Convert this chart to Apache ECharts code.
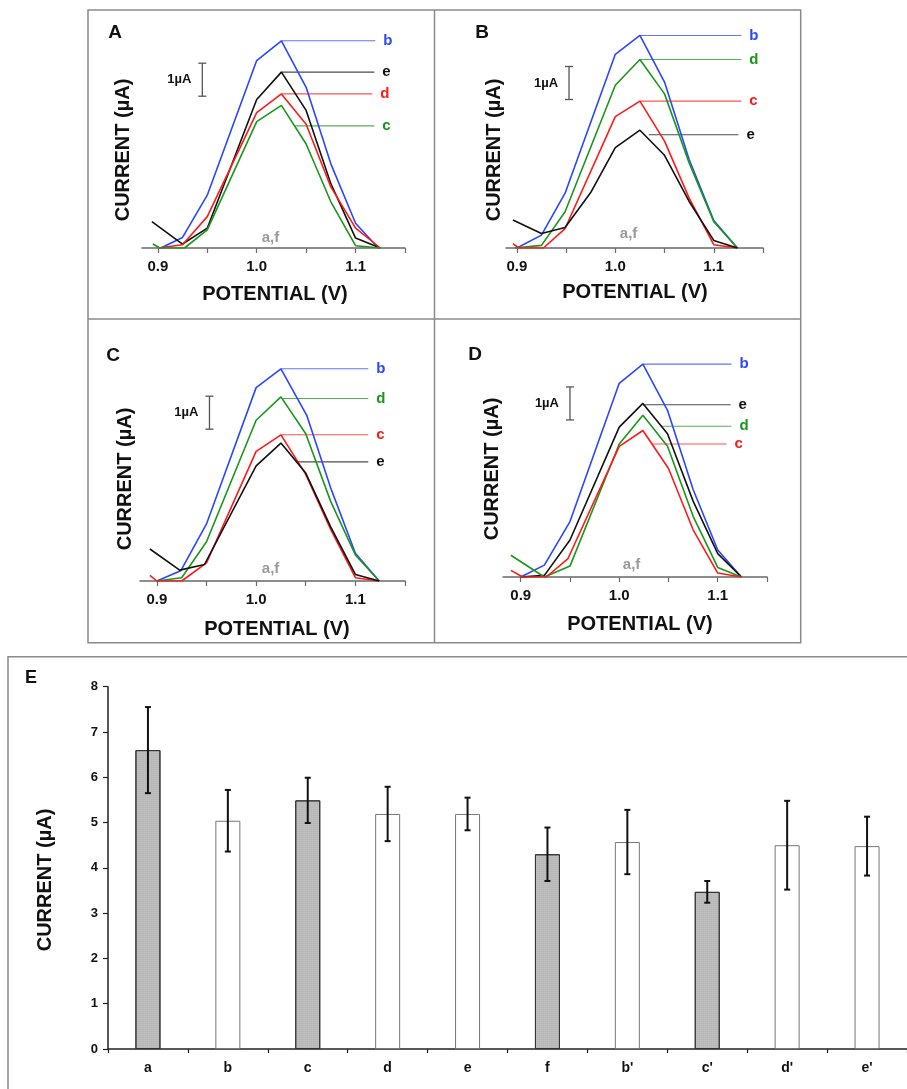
<!DOCTYPE html>
<html><head><meta charset="utf-8">
<script src="https://cdn.jsdelivr.net/npm/echarts@6/dist/echarts.min.js"></script>
<style>html,body{margin:0;padding:0;background:#fff}#c{width:907px;height:1089px}</style>
</head><body><div id="c"></div>
<script>
// ---------- Panels A-D: voltammograms [potential V, current µA] ----------
const A_b = [[0.903,0],[0.925,0.32],[0.95,1.6],[1.0,5.68],[1.025,6.28],[1.05,4.87],[1.075,2.55],[1.1,0.75],[1.123,0]];
const A_e = [[0.894,0.8],[0.925,0.12],[0.95,0.6],[1.0,4.5],[1.025,5.33],[1.05,4.17],[1.075,1.95],[1.1,0.3],[1.125,0]];
const A_d = [[0.9,0],[0.925,0.1],[0.95,0.95],[1.0,4.1],[1.025,4.67],[1.05,3.75],[1.075,1.85],[1.1,0.6],[1.125,0]];
const A_c = [[0.895,0.12],[0.902,0],[0.927,0],[0.95,0.55],[1.0,3.83],[1.025,4.32],[1.05,3.15],[1.075,1.4],[1.1,0.07],[1.125,0]];

const B_b = [[0.9,0],[0.925,0.39],[0.949,1.66],[1.0,5.87],[1.025,6.44],[1.05,5.03],[1.075,2.68],[1.1,0.83],[1.124,0]];
const B_d = [[0.898,0],[0.925,0.08],[0.949,1.1],[1.0,4.93],[1.025,5.71],[1.05,4.67],[1.075,2.58],[1.1,0.8],[1.124,0]];
const B_c = [[0.896,0.13],[0.902,0],[0.927,0],[0.949,0.59],[1.0,3.98],[1.025,4.45],[1.05,3.24],[1.075,1.51],[1.1,0.1],[1.124,0]];
const B_e = [[0.896,0.85],[0.925,0.44],[0.949,0.62],[0.975,1.68],[1.0,3.04],[1.025,3.57],[1.05,2.81],[1.075,1.41],[1.1,0.23],[1.124,0]];

const C_b = [[0.9,0],[0.924,0.31],[0.95,1.73],[1.0,5.86],[1.025,6.43],[1.051,5.02],[1.075,2.83],[1.1,0.84],[1.124,0]];
const C_d = [[0.9,0],[0.925,0.1],[0.95,1.19],[1.0,4.87],[1.025,5.58],[1.05,4.46],[1.075,2.42],[1.1,0.79],[1.124,0]];
const C_c = [[0.893,0.17],[0.9,0],[0.925,0],[0.95,0.55],[1.0,3.93],[1.025,4.43],[1.05,3.23],[1.075,1.57],[1.1,0.1],[1.124,0]];
const C_e = [[0.893,0.97],[0.923,0.33],[0.948,0.5],[1.0,3.49],[1.025,4.18],[1.05,3.27],[1.075,1.65],[1.1,0.2],[1.124,0]];

const D_b = [[0.9,0],[0.924,0.36],[0.95,1.68],[1.0,5.87],[1.024,6.45],[1.049,5.05],[1.075,2.65],[1.1,0.82],[1.124,0]];
const D_e = [[0.9,0],[0.924,0.05],[0.95,1.12],[1.0,4.54],[1.024,5.26],[1.049,4.34],[1.075,2.3],[1.1,0.71],[1.124,0]];
const D_d = [[0.89,0.66],[0.924,0],[0.95,0.33],[1.0,4.03],[1.024,4.9],[1.049,3.96],[1.075,1.84],[1.1,0.29],[1.124,0]];
const D_c = [[0.89,0.2],[0.902,0],[0.926,0],[0.948,0.56],[1.0,3.96],[1.024,4.44],[1.05,3.29],[1.075,1.43],[1.1,0.12],[1.124,0]];

// flat traces a,f (on the baseline)
const AF_line = [[0.9,0],[1.125,0]];

// curve label leader lines: [label, x start, x end, current]
const A_leaders = [['b',1.025,1.12,6.28],['e',1.025,1.119,5.33],['d',1.025,1.117,4.67],['c',1.039,1.119,3.7]];
const B_leaders = [['b',1.025,1.128,6.44],['d',1.025,1.128,5.71],['c',1.025,1.128,4.45],['e',1.034,1.125,3.43]];
const C_leaders = [['b',1.025,1.113,6.43],['d',1.027,1.113,5.53],['c',1.025,1.113,4.43],['e',1.04,1.113,3.61]];
const D_leaders = [['b',1.024,1.114,6.45],['e',1.024,1.113,5.22],['d',1.043,1.114,4.57],['c',1.033,1.109,4.03]];

// "a,f" label positions [V, µA]
const AF_labels = [[1.014,0.3],[1.0135,0.44],[1.0146,0.38],[1.0125,0.36]];
// 1 µA scale bars [V, from µA, to µA]
const scaleBars = [[0.945,4.6,5.6],[0.953,4.5,5.5],[0.953,4.6,5.6],[0.95,4.76,5.76]];

const xTicks = [0.9,0.95,1.0,1.05,1.1,1.15];
const xTickLabels = [0.9,1.0,1.1];

// ---------- Panel E: bar chart ----------
const E_categories = ['a','b','c','d','e','f',"b'","c'","d'","e'"];
const E_values = [6.60,5.04,5.49,5.19,5.19,4.30,4.57,3.47,4.50,4.48];
const E_errors = [0.95,0.68,0.50,0.60,0.36,0.59,0.71,0.24,0.98,0.65];
const E_shaded = [true,false,true,false,false,true,false,true,false,false];
const E_yTicks = [0,1,2,3,4,5,6,7,8];

// ---------- styles ----------
const BLUE='#2a46ff', RED='#ff1a1a', GREEN='#1a961a', BLACK='#111111', GRAY='#9a9a9a';
const FONT='"Liberation Sans", Arial, sans-serif';

const panels = [
  {grid:{left:142,top:17,width:263,height:231}, min:0.884, curves:[['b',A_b,BLUE],['e',A_e,BLACK],['d',A_d,RED],['c',A_c,GREEN]], leaders:A_leaders},
  {grid:{left:506,top:17,width:257,height:231}, min:0.889, curves:[['b',B_b,BLUE],['d',B_d,GREEN],['c',B_c,RED],['e',B_e,BLACK]], leaders:B_leaders},
  {grid:{left:140,top:350,width:265,height:231}, min:0.883, curves:[['b',C_b,BLUE],['d',C_d,GREEN],['c',C_c,RED],['e',C_e,BLACK]], leaders:C_leaders},
  {grid:{left:503,top:346,width:264,height:231}, min:0.882, curves:[['b',D_b,BLUE],['e',D_e,BLACK],['d',D_d,GREEN],['c',D_c,RED]], leaders:D_leaders}
];
const colorOf = {};

const grids=[], xAxes=[], yAxes=[], series=[];
panels.forEach((p,i)=>{
  grids.push(p.grid);
  xAxes.push({type:'value',gridIndex:i,min:p.min,max:1.15,
    axisLine:{show:true,lineStyle:{color:'#6a6a6a',width:1.5}},
    axisTick:{show:true,customValues:xTicks,length:5,lineStyle:{color:'#6a6a6a',width:1.2}},
    axisLabel:{show:true,customValues:xTickLabels,formatter:v=>Number(v).toFixed(1),margin:11,
      fontFamily:FONT,fontWeight:'bold',fontSize:15,color:'#111'},
    splitLine:{show:false}});
  yAxes.push({type:'value',gridIndex:i,min:0,max:7,show:false});
  const cmap={};
  p.curves.forEach(([nm,data,col])=>{
    cmap[nm]=col;
    series.push({type:'line',xAxisIndex:i,yAxisIndex:i,data:data,showSymbol:false,symbol:'none',
      lineStyle:{color:col,width:1.6},silent:true,z:3});
  });
  series.push({type:'line',xAxisIndex:i,yAxisIndex:i,data:AF_line,symbol:'none',lineStyle:{color:'#8a8a8a',width:1},z:2});
  p.leaders.forEach(([nm,x0,x1,y])=>{
    series.push({type:'line',xAxisIndex:i,yAxisIndex:i,data:[[x0,y],[x1,y]],symbol:'none',
      lineStyle:{color:cmap[nm],width:1.1,opacity:0.75},z:2,
      endLabel:{show:true,formatter:nm,distance:8,color:cmap[nm],fontFamily:FONT,fontWeight:'bold',fontSize:15}});
  });
  // a,f label
  series.push({type:'custom',xAxisIndex:i,yAxisIndex:i,data:[AF_labels[i]],
    renderItem:(params,api)=>{const pt=api.coord([api.value(0),api.value(1)]);
      return {type:'text',x:pt[0],y:pt[1],style:{text:'a,f',fill:GRAY,font:'bold 15px '+FONT,align:'center',verticalAlign:'middle'}};}});
  // scale bar
  series.push({type:'custom',xAxisIndex:i,yAxisIndex:i,data:[scaleBars[i]],
    renderItem:(params,api)=>{const b=api.coord([api.value(0),api.value(1)]);const t=api.coord([api.value(0),api.value(2)]);
      const st={stroke:'#555',lineWidth:1.3};
      return {type:'group',children:[
        {type:'line',shape:{x1:b[0],y1:b[1],x2:t[0],y2:t[1]},style:st},
        {type:'line',shape:{x1:b[0]-4,y1:b[1],x2:b[0]+4,y2:b[1]},style:st},
        {type:'line',shape:{x1:t[0]-4,y1:t[1],x2:t[0]+4,y2:t[1]},style:st},
        {type:'text',x:b[0]-11,y:(b[1]+t[1])/2,style:{text:'1µA',fill:'#111',font:'bold 13px '+FONT,align:'right',verticalAlign:'middle'}}
      ]};}});
});

// Panel E
grids.push({left:108,top:686.7,width:800,height:362.3});
xAxes.push({type:'category',gridIndex:4,data:E_categories,
  axisLine:{lineStyle:{color:'#222',width:1.5}},
  axisTick:{show:true,alignWithLabel:false,length:4,lineStyle:{color:'#222',width:1.2}},
  axisLabel:{fontFamily:FONT,fontWeight:'bold',fontSize:14,color:'#111',margin:12}});
yAxes.push({type:'value',gridIndex:4,min:0,max:8,interval:1,
  axisLine:{show:true,lineStyle:{color:'#222',width:1.5}},
  axisTick:{show:true,length:5,lineStyle:{color:'#222',width:1.2}},
  axisLabel:{fontFamily:FONT,fontWeight:'bold',fontSize:13,color:'#111',margin:10},
  splitLine:{show:false}});
series.push({type:'bar',xAxisIndex:4,yAxisIndex:4,barWidth:25,
  data:E_values.map((v,i)=>({value:v,itemStyle:E_shaded[i]?
    {color:'#b9b9b9',borderColor:'#333',borderWidth:1,decal:{symbol:'rect',symbolSize:0.6,dashArrayX:[1,1],dashArrayY:[1,1],color:'rgba(255,255,255,0.35)'}}:
    {color:'#fff',borderColor:'#777',borderWidth:1}})),z:2});
series.push({type:'custom',xAxisIndex:4,yAxisIndex:4,z:5,
  data:E_values.map((v,i)=>[i,v-E_errors[i],v+E_errors[i]]),
  renderItem:(params,api)=>{const lo=api.coord([api.value(0),api.value(1)]);const hi=api.coord([api.value(0),api.value(2)]);
    const st={stroke:'#111',lineWidth:2};
    return {type:'group',children:[
      {type:'line',shape:{x1:lo[0],y1:lo[1],x2:hi[0],y2:hi[1]},style:st},
      {type:'line',shape:{x1:lo[0]-3,y1:lo[1],x2:lo[0]+3,y2:lo[1]},style:st},
      {type:'line',shape:{x1:hi[0]-3,y1:hi[1],x2:hi[0]+3,y2:hi[1]},style:st}]};}});

// Frames and static text
const border={stroke:'#8a8a8a',lineWidth:1.5,fill:null};
const txt=(x,y,s,size,rot)=>({type:'text',x:x,y:y,rotation:rot||0,
  style:{text:s,fill:'#111',font:'bold '+size+'px '+FONT,align:'center',verticalAlign:'middle'}});
const graphic=[
  {type:'rect',shape:{x:88,y:10,width:712.7,height:632.7},style:border},
  {type:'line',shape:{x1:434.5,y1:10,x2:434.5,y2:642.7},style:border},
  {type:'line',shape:{x1:88,y1:319,x2:800.7,y2:319},style:border},
  {type:'rect',shape:{x:8,y:656.7,width:920,height:450},style:border},
  txt(115,33,'A',19), txt(482,33,'B',19), txt(113,356,'C',19), txt(475,355,'D',19), txt(31,678,'E',18),
  txt(123,150,'CURRENT (µA)',20,Math.PI/2), txt(494,150,'CURRENT (µA)',20,Math.PI/2),
  txt(125,479,'CURRENT (µA)',20,Math.PI/2), txt(492,469,'CURRENT (µA)',20,Math.PI/2),
  txt(45,880,'CURRENT (µA)',20,Math.PI/2),
  txt(275,294,'POTENTIAL (V)',20), txt(635,292,'POTENTIAL (V)',20),
  txt(277,629,'POTENTIAL (V)',20), txt(640,624,'POTENTIAL (V)',20)
];

const chart=echarts.init(document.getElementById('c'),null,{renderer:'canvas'});
chart.setOption({animation:false,backgroundColor:'#fff',grid:grids,xAxis:xAxes,yAxis:yAxes,series:series,graphic:graphic});
</script></body></html>
